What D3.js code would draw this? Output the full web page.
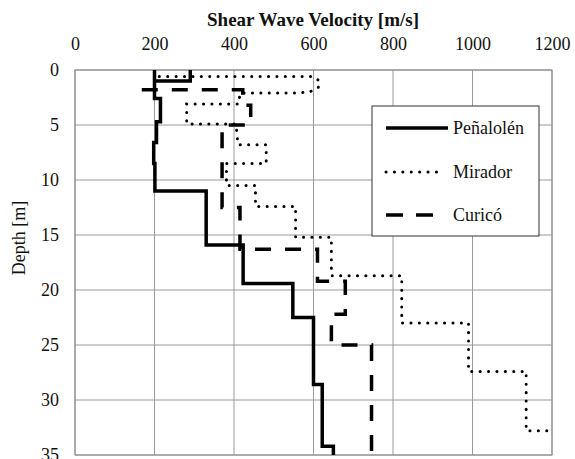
<!DOCTYPE html>
<html>
<head>
<meta charset="utf-8">
<script src="https://cdn.jsdelivr.net/npm/d3@7/dist/d3.min.js"></script>
<style>
  html, body { margin: 0; padding: 0; background: #fff; }
  svg { display: block; }
  svg text { font-family: "Liberation Serif", "DejaVu Serif", "Noto Serif", Tinos, "Times New Roman", serif !important; fill: #111; }
</style>
</head>
<body>
<svg id="chart" width="575" height="459"></svg>
<script>
// ---- data ----
const xTicks = [0, 200, 400, 600, 800, 1000, 1200];
const yTicks = [0, 5, 10, 15, 20, 25, 30, 35];
const seriesNames = ["Peñalolén", "Mirador", "Curicó"];

const penalolenVs    = [290, 290, 200, 200, 200, 215, 215, 205, 205, 198, 198, 201, 201, 330, 330, 423, 423, 548, 548, 600, 600, 622, 622, 650, 650];
const penalolenDepth = [0,   1.0, 1.0, 0,   2.6, 2.6, 4.7, 4.7, 6.6, 6.6, 8.5, 8.5, 11.0, 11.0, 15.9, 15.9, 19.4, 19.4, 22.5, 22.5, 28.6, 28.6, 34.2, 34.2, 35];

const miradorVs    = [212, 600, 615, 612, 590, 555, 415, 412, 281, 281, 405, 410, 481, 481, 381, 381, 454, 454, 555, 555, 645, 645, 822, 822, 990, 990, 1135, 1135, 1200];
const miradorDepth = [0.6, 0.6, 1.0, 1.6, 2.0, 2.1, 2.1, 3.1, 3.1, 4.9, 4.9, 6.8, 6.8, 8.5, 8.5, 10.5, 10.5, 12.4, 12.4, 15.2, 15.2, 18.7, 18.7, 23.0, 23.0, 27.4, 27.4, 32.8, 32.8];

const curicoVs    = [168, 422, 422, 442, 442, 370, 370, 415, 415, 610, 610, 680, 680, 645, 645, 746, 746];
const curicoDepth = [1.8, 1.8, 3.2, 3.2, 5.0, 5.0, 12.5, 12.5, 16.3, 16.3, 19.2, 19.2, 22.2, 22.2, 25.0, 25.0, 35];

// ---- layout ----
const FONT = '"Liberation Serif", "DejaVu Serif", "Noto Serif", Tinos, "Times New Roman", serif';
const svg = d3.select("#chart");
const x = d3.scaleLinear().domain([0, 1200]).range([75, 552]);
const y = d3.scaleLinear().domain([0, 35]).range([70, 455]);

// grid
svg.append("g").selectAll("line").data(xTicks).join("line")
  .attr("x1", d => x(d)).attr("x2", d => x(d))
  .attr("y1", y(0)).attr("y2", y(35))
  .attr("stroke", "#9a9a9a").attr("stroke-width", 1);
svg.append("g").selectAll("line").data(yTicks).join("line")
  .attr("x1", x(0)).attr("x2", x(1200))
  .attr("y1", d => y(d)).attr("y2", d => y(d))
  .attr("stroke", "#9a9a9a").attr("stroke-width", 1);
svg.append("rect")
  .attr("x", x(0)).attr("y", y(0))
  .attr("width", x(1200) - x(0)).attr("height", y(35) - y(0))
  .attr("fill", "none").attr("stroke", "#8a8a8a").attr("stroke-width", 1);

// axes labels
const xAxis = d3.axisTop(x).tickValues(xTicks).tickFormat(d3.format("d")).tickSize(0).tickPadding(0);
const gx = svg.append("g").attr("transform", "translate(0,50)").call(xAxis)
  .attr("font-family", FONT).attr("font-size", 18);
gx.select(".domain").remove();
gx.selectAll("text").style("font-family", FONT).style("font-size", "18px").attr("fill", "#111");

const yAxis = d3.axisLeft(y).tickValues(yTicks).tickFormat(d3.format("d")).tickSize(0).tickPadding(0);
const gy = svg.append("g").attr("transform", "translate(59,0)").call(yAxis)
  .attr("font-family", FONT).attr("font-size", 18);
gy.select(".domain").remove();
gy.selectAll("text").style("font-family", FONT).style("font-size", "18px").attr("fill", "#111");

svg.append("text")
  .attr("x", 313).attr("y", 26)
  .attr("text-anchor", "middle")
  .style("font-family", FONT).style("font-size", "19px").style("font-weight", "bold")
  .text("Shear Wave Velocity [m/s]");

svg.append("text")
  .attr("transform", "translate(25,238) rotate(-90)")
  .attr("text-anchor", "middle")
  .style("font-family", FONT).style("font-size", "18px")
  .text("Depth [m]");

// series
const line = d3.line().x(d => x(d[0])).y(d => y(d[1]));
const zip = (a, b) => a.map((v, i) => [v, b[i]]);

const styles = [
  { w: 3.5, dash: null, cap: "butt" },
  { w: 3, dash: "0.1,8.3", cap: "round" },
  { w: 3.5, dash: "16,14", cap: "butt" }
];

const plot = svg.append("g");
plot.append("path").datum(zip(curicoVs, curicoDepth))
  .attr("d", line).attr("fill", "none").attr("stroke", "#000")
  .attr("stroke-width", styles[2].w).attr("stroke-dasharray", styles[2].dash)
  .attr("stroke-linecap", styles[2].cap).attr("stroke-linejoin", "miter");
plot.append("path").datum(zip(miradorVs, miradorDepth))
  .attr("d", line).attr("fill", "none").attr("stroke", "#000")
  .attr("stroke-width", styles[1].w).attr("stroke-dasharray", styles[1].dash)
  .attr("stroke-linecap", styles[1].cap);
plot.append("path").datum(zip(penalolenVs, penalolenDepth))
  .attr("d", line).attr("fill", "none").attr("stroke", "#000")
  .attr("stroke-width", styles[0].w)
  .attr("stroke-linecap", "butt").attr("stroke-linejoin", "miter");

// legend
const lg = svg.append("g");
lg.append("rect").attr("x", 372).attr("y", 106).attr("width", 167).attr("height", 130)
  .attr("fill", "#fff").attr("stroke", "#333").attr("stroke-width", 1);
const legY = [128, 172, 215];
const legEnd = [448, 438, 448];
const legDash = [null, "0.1,8.3", "17,13,17,100"];
seriesNames.forEach((name, i) => {
  lg.append("line")
    .attr("x1", 386).attr("x2", legEnd[i])
    .attr("y1", legY[i]).attr("y2", legY[i])
    .attr("stroke", "#000").attr("stroke-width", styles[i].w)
    .attr("stroke-dasharray", legDash[i])
    .attr("stroke-linecap", styles[i].cap);
  lg.append("text")
    .attr("x", 453).attr("y", legY[i]).attr("dy", "0.33em")
    .style("font-family", FONT).style("font-size", "18px")
    .text(name);
});
</script>
</body>
</html>
